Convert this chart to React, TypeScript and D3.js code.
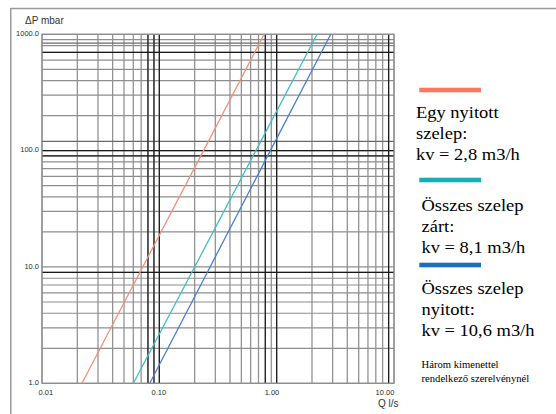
import React from "react";
import * as d3 from "d3";

// ---- data ----
const pressureLevels = [1, 100, 1000]; // ΔP mbar at which flows were read
const flowOneOpen = [0.0219, 0.238, 0.781]; // Q l/s, kv = 2,8
const flowAllClosed = [0.0601, 0.665, 2.21]; // Q l/s, kv = 8,1
const flowAllOpen = [0.0829, 0.884, 2.89]; // Q l/s, kv = 10,6

const xTickLabels = ["0.01", "0.10", "1.00", "10.00"];
const xTickValues = [0.01, 0.1, 1, 10];
const yTickLabels = ["1.0", "10.0", "100.0", "1000.0"];
const yTickValues = [1, 10, 100, 1000];

const xDarkLines = [0.08, 0.09, 0.1, 0.8, 1, 9];
const yDarkLines = [700, 100, 90, 9];
const yExtraLines = [120, 840];

const legendBlocks = [
  { color: "#F47B5E", lines: ["Egy nyitott", "szelep:", "kv = 2,8 m3/h"] },
  { color: "#17ADB4", lines: ["Összes szelep", "zárt:", "kv = 8,1 m3/h"] },
  { color: "#1E6CC0", lines: ["Összes szelep", "nyitott:", "kv = 10,6 m3/h"] },
];
const noteLines = ["Három kimenettel", "rendelkező szerelvénynél"];

const series = [
  { flows: flowOneOpen, color: "#F4917A" },
  { flows: flowAllClosed, color: "#45BEC0" },
  { flows: flowAllOpen, color: "#4A80D2" },
];

export default function App() {
  const W = 556;
  const H = 414;
  const x = d3.scaleLog().domain([0.01, 10]).range([42, 394]);
  const xLabel = d3.scaleLog().domain([0.01, 10]).range([45.8, 385]);
  const y = d3.scaleLog().domain([1, 1000]).range([383.3, 34.3]);

  const xGrid = x.ticks(30);
  const yGrid = y.ticks(30);
  const sans = "'Liberation Sans', Arial, sans-serif";
  const serif = "'Liberation Serif', 'Times New Roman', serif";

  const line = d3
    .line<[number, number]>()
    .x((d) => x(d[0]))
    .y((d) => y(d[1]));

  const legendBarY = [90, 180, 265];
  const legendTextX = [416, 421.5, 421.5];
  const legendFirstBaseline = [117.5, 210.5, 293.5];

  return (
    <svg
      width={W}
      height={H}
      style={{ position: "absolute", left: 0, top: 0, background: "#fff" }}
    >
      {/* outer frame */}
      <line x1={10.5} x2={W} y1={8.5} y2={8.5} stroke="#9a9a9a" strokeWidth={1.7} />
      <line x1={10.8} x2={10.8} y1={8} y2={H} stroke="#9a9a9a" strokeWidth={1.5} />

      {/* grid */}
      <g>
        {xGrid.map((v, i) => (
          <line key={"xg" + i} x1={x(v)} x2={x(v)} y1={y(1000)} y2={y(1)} stroke="#939393" strokeWidth={1.3} />
        ))}
        {yGrid.map((v, i) => (
          <line key={"yg" + i} x1={x(0.01)} x2={x(10)} y1={y(v)} y2={y(v)} stroke="#8e8e8e" strokeWidth={1.2} />
        ))}
        {yExtraLines.map((v, i) => (
          <line key={"ye" + i} x1={x(0.01)} x2={x(10)} y1={y(v)} y2={y(v)} stroke="#6a6a6a" strokeWidth={1.2} />
        ))}
        {xDarkLines.map((v, i) => (
          <line key={"xd" + i} x1={x(v)} x2={x(v)} y1={y(1000)} y2={y(1)} stroke="#1a1a1a" strokeWidth={1.2} />
        ))}
        {yDarkLines.map((v, i) => (
          <line key={"yd" + i} x1={x(0.01)} x2={x(10)} y1={y(v)} y2={y(v)} stroke="#1a1a1a" strokeWidth={1.2} />
        ))}
        <rect x={x(0.01)} y={y(1000)} width={x(10) - x(0.01)} height={y(1) - y(1000)} fill="none" stroke="#8e8e8e" strokeWidth={1.2} />
      </g>

      {/* curves */}
      <g>
        {series.map((s, i) => (
          <path
            key={"s" + i}
            d={line(pressureLevels.map((p, j) => [s.flows[j], p] as [number, number])) || ""}
            fill="none"
            stroke={s.color}
            strokeWidth={1.3}
          />
        ))}
      </g>

      {/* axis labels */}
      <g fontFamily={sans} fontSize={7.5} fill="#2a2a2a">
        {yTickValues.map((v, i) => (
          <text key={"yl" + i} x={39} y={y(v) + 1.8} textAnchor="end">
            {yTickLabels[i]}
          </text>
        ))}
        {xTickValues.map((v, i) => (
          <text key={"xl" + i} x={xLabel(v)} y={394.5} textAnchor="middle">
            {xTickLabels[i]}
          </text>
        ))}
      </g>
      <text x={25} y={23.5} fontFamily={sans} fontSize={10} fill="#333">
        ΔP mbar
      </text>
      <text x={378} y={406.5} fontFamily={sans} fontSize={10} fill="#333">
        Q l/s
      </text>

      {/* legend */}
      {legendBlocks.map((b, i) => (
        <g key={"lg" + i}>
          <rect x={419.3} y={legendBarY[i] - 2.3} width={61.7} height={4.6} fill={b.color} />
          {b.lines.map((t, j) => (
            <text
              key={"lt" + j}
              transform={`translate(${legendTextX[i]},${legendFirstBaseline[i] + j * 21}) scale(1.12,1)`}
              fontFamily={serif}
              fontSize={16.5}
              fill="#000"
            >
              {t}
            </text>
          ))}
        </g>
      ))}
      {noteLines.map((t, j) => (
        <text
          key={"nt" + j}
          transform={`translate(421.5,${367.5 + j * 14}) scale(1.12,1)`}
          fontFamily={serif}
          fontSize={9.5}
          fill="#000"
        >
          {t}
        </text>
      ))}
    </svg>
  );
}
